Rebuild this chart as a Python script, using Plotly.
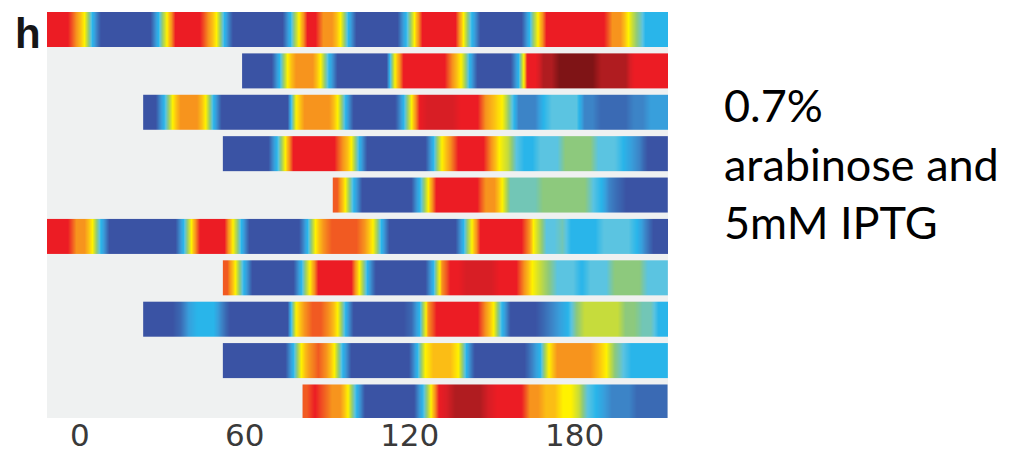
import plotly.graph_objects as go

# ---------------- data ----------------
STEP = 3  # minutes per cell

# colour level codes (position on the colour scale)
LEVELS = {"B": 0.0, "b": 0.06, "m": 0.12, "s": 0.18, "c": 0.25, "t": 0.31,
          "e": 0.36, "g": 0.42, "l": 0.52, "y": 0.62, "a": 0.67, "o": 0.72,
          "p": 0.77, "r": 0.82, "q": 0.86, "R": 0.91, "D": 1.0}

# start time (min) of each cell lineage trace
row_starts = [-12, 59, 23, 52, 92, -12, 52, 23, 52, 81]

row01 = "rrroycBBBBBBBcyrrrroycBBBBBBBcyrrooycBBBBBBcyrrrrrycBBBBBBcyrrrrrrrrooygcccc"
row02 = "BBBBcyoooycBBBBBBByrrrrrroycBBBBBcrrRRDDDDDRRRRrrrrr"
row03 = "BBcyoooycBBBBBBBBByooooycBBBBBBcyrqqqqrrroayemmmcttttmmbbbbmmsss"
row04 = "BBBBBBcyrrrrrroycBBBBBBBBcyorrrroyltcctttggggtttcsmBBB"
row05 = "pycBBBBBBBcyrrrrrrooyeeeeggggggtcmbBBBBBB"
row06 = "rrrooycBBBBBBBBBcyrrrrycBBBBBBBcyoppppoycBBBBBBBBBcyrrrrrroltteccccttttcmBBBB"
row07 = "pycBBBBBBcyrrrrrycBBBBBBBcorrqqqqrrroylgtttctttggggttt"
row08 = "BBBBbscccmBBBBBBBByoppoycBBBBBBBbcorrrrrroycBBBBbmscglllllggeecc"
row09 = "BBBBBBBBcyopoycBBBBBBBBcyaaaycBBBBBBBmcyoooooaygtccccc"
row10 = "prpooycBBBBBBBcyrqRRRRqrrrrooaayyltcsmmmbbbbb"

rows = [row01, row02, row03, row04, row05, row06, row07, row08, row09, row10]

x_ticks = [0, 60, 120, 180]
x_range = [-12, 214]
panel_label = "h"
condition_text = "0.7%<br>arabinose and<br>5mM IPTG"

COLORSCALE = [
    [0.00, "#3a53a4"], [0.06, "#3a6ab4"], [0.12, "#3c84c7"], [0.18, "#389fdc"],
    [0.25, "#29b5ea"], [0.31, "#5bc4e1"], [0.36, "#72c6b6"], [0.42, "#8dc97d"],
    [0.52, "#c6dc3c"], [0.62, "#fff200"], [0.67, "#fbbd15"], [0.72, "#f7941d"],
    [0.77, "#f15a22"], [0.82, "#ec1c24"], [0.86, "#d81e25"], [0.91, "#b01c20"],
    [1.00, "#7f1416"],
]

# ---------------- figure ----------------
fig = go.Figure()
HALF = 0.42
for i, (start, codes) in enumerate(zip(row_starts, rows)):
    z = [[LEVELS[ch] for ch in codes]]
    x_edges = [start + STEP * k for k in range(len(codes) + 1)]
    fig.add_trace(go.Heatmap(
        z=z, x=x_edges, y=[i - HALF, i + HALF],
        zmin=0, zmax=1, colorscale=COLORSCALE, zsmooth="best",
        showscale=False, hoverinfo="skip",
    ))

# the page body adds an 8 px offset; figure is sized to compensate
OFF = 8
W, H = 1010, 448
L, T = 47 - OFF, 12 - OFF
pw, ph = 621, 406
R, B = W - L - pw, H - T - ph


def px_x(px):
    return (px - OFF - L) / pw


def px_y(py):
    return (T + ph - (py - OFF)) / ph


fig.update_layout(
    width=W, height=H,
    margin=dict(l=L, r=R, t=T, b=B, pad=0, autoexpand=False),
    paper_bgcolor="white",
    plot_bgcolor="#eff1f1",
    showlegend=False,
    xaxis=dict(range=x_range, tickvals=x_ticks, ticktext=[str(v) for v in x_ticks],
               showgrid=False, zeroline=False, showline=False, ticks="",
               automargin=False, ticklabelstandoff=-4,
               tickfont=dict(family="DejaVu Sans", size=31, color="#3a3a3a")),
    yaxis=dict(range=[9.39, -0.42], visible=False, showgrid=False, zeroline=False,
               automargin=False),
    annotations=[
        dict(text=panel_label, xref="paper", yref="paper", x=px_x(28), y=px_y(8),
             xanchor="center", yanchor="top", showarrow=False,
             font=dict(family="Liberation Sans", size=42, color="#161616", weight="bold")),
        dict(text=condition_text, xref="paper", yref="paper", x=px_x(722), y=px_y(163),
             xanchor="left", yanchor="middle", align="left", showarrow=False,
             font=dict(family="Lato", size=45, color="#000000")),
    ],
)

fig.write_html("out.html")
